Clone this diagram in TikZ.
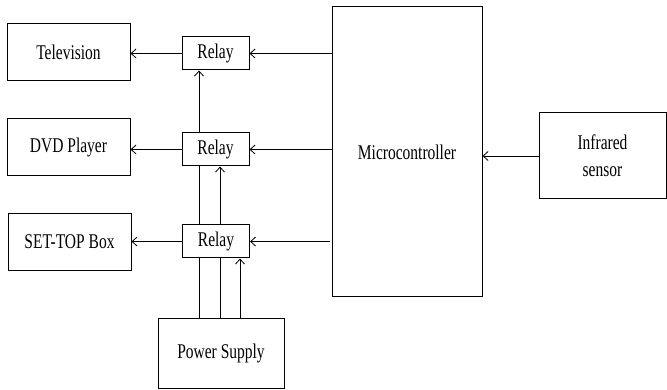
\documentclass[tikz,border=0pt]{standalone}
\usepackage{fontspec}
\setmainfont{Liberation Serif}
\usepackage{graphicx}
\usetikzlibrary{arrows.meta}
\newcommand{\tallword}[1]{\scalebox{1}[1.35]{#1}}

\begin{document}
\begin{tikzpicture}[x=1pt, y=-1pt,
    block/.style={draw, line width=1pt, inner sep=0pt, align=center,
                  font=\fontsize{15.5}{27}\selectfont},
    relaybox/.style={block, minimum width=67pt, minimum height=33pt},
    devicebox/.style={block, minimum width=123pt, minimum height=57pt},
    link/.style={line width=0.8pt},
    feed/.style={link, -{Straight Barb[length=5pt,width=9pt]}}]
    \useasboundingbox (0,0) rectangle (667,390);

    % appliances
    \node[devicebox] (tv) at (68.5,52.5) {\tallword{Television}};
    \node[devicebox] (dvd) at (68.5,147.5) {\tallword{DVD Player}};
    \node[devicebox] (stb) at (69.5,242) {\tallword{SET-TOP Box}};

    % relays
    \node[relaybox] (r1) at (215.5,53.5) {\tallword{Relay}};
    \node[relaybox] (r2) at (215.5,149.5) {\tallword{Relay}};
    \node[relaybox] (r3) at (216,241.5) {\tallword{Relay}};

    % controller, sensor and supply
    \node[block, minimum width=150pt, minimum height=290pt] (mc) at (407,152) {\tallword{Microcontroller}};
    \node[block, minimum width=127pt, minimum height=86pt] (ir) at (602.5,156) {\tallword{Infrared}\\\tallword{sensor}};
    \node[block, minimum width=126pt, minimum height=70pt] (ps) at (221,353) {\tallword{Power Supply}};

    % relay to appliance
    \draw[feed] (r1.west) -- (tv.east |- r1.west);
    \draw[feed] (r2.west) -- (dvd.east |- r2.west);
    \draw[feed] (r3.west) -- (stb.east |- r3.west);

    % controller to relay
    \draw[feed] (mc.west |- r1) -- (r1.east);
    \draw[feed] (mc.west |- r2) -- (r2.east);
    \draw[feed] ([xshift=-2pt]mc.west |- r3) -- (r3.east);

    % sensor to controller
    \draw[feed] (ir.west) -- (mc.east |- ir.west);

    % supply lines
    \coordinate (lineA) at (199,0);
    \coordinate (lineB) at (220,0);
    \coordinate (lineC) at (240,0);
    \draw[link] (lineA |- ps.north) -- (lineA |- r3.south);
    \draw[link] (lineA |- r3.north) -- (lineA |- r2.south);
    \draw[feed] (lineA |- r2.north) -- (lineA |- r1.south);
    \draw[link] (lineB |- ps.north) -- (lineB |- r3.south);
    \draw[feed] (lineB |- r3.north) -- (lineB |- r2.south);
    \draw[feed] (lineC |- ps.north) -- (lineC |- r3.south);
\end{tikzpicture}
\end{document}
